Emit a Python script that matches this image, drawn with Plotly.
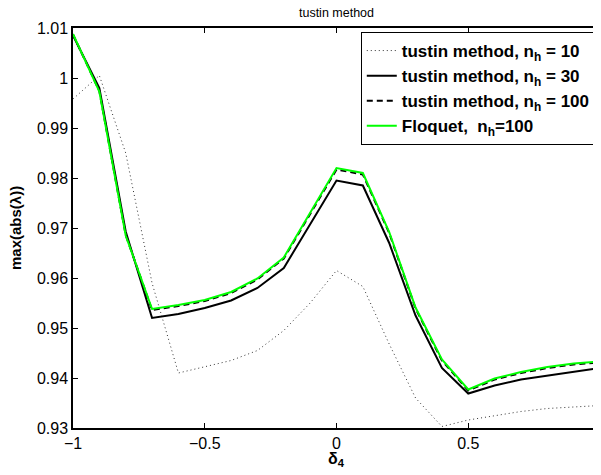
import plotly.graph_objects as go

# ---- data ----
delta4 = [-1.0, -0.9, -0.8, -0.7, -0.6, -0.5, -0.4, -0.3, -0.2, -0.1, 0.0,
          0.1, 0.2, 0.3, 0.4, 0.5, 0.6, 0.7, 0.8, 0.9, 1.0]

tustin_nh10 = [0.9958, 1.0005, 0.9850, 0.9590, 0.9410, 0.9422, 0.9435, 0.9455,
               0.9495, 0.9550, 0.9615, 0.9583, 0.9468, 0.9360, 0.9303, 0.9316,
               0.9325, 0.9333, 0.9339, 0.9342, 0.9345]

tustin_nh30 = [1.0085, 0.9980, 0.9693, 0.9520, 0.9528, 0.9540, 0.9555, 0.9580,
               0.9620, 0.9708, 0.9795, 0.9785, 0.9670, 0.9525, 0.9420, 0.9369,
               0.9385, 0.9397, 0.9405, 0.9413, 0.9420]

tustin_nh100 = [1.0087, 0.9974, 0.9686, 0.9536, 0.9544, 0.9554, 0.9570, 0.9597,
                0.9639, 0.9728, 0.9817, 0.9807, 0.9690, 0.9539, 0.9435, 0.9375,
                0.9397, 0.9410, 0.9420, 0.9427, 0.9431]

floquet_nh100 = [1.0088, 0.9973, 0.9685, 0.9538, 0.9546, 0.9556, 0.9572, 0.9599,
                 0.9641, 0.9730, 0.9820, 0.9810, 0.9692, 0.9541, 0.9437, 0.9377,
                 0.9399, 0.9412, 0.9422, 0.9429, 0.9433]

series_names = ["<b>tustin method, n<sub>h</sub> = 10</b>",
                "<b>tustin method, n<sub>h</sub> = 30</b>",
                "<b>tustin method, n<sub>h</sub> = 100</b>",
                "<b>Floquet,  n<sub>h</sub>=100</b>"]

x_tickvals = [-1, -0.5, 0, 0.5, 1]
x_ticktext = ["\u22121", "\u22120.5", "0", "0.5", "1"]
y_tickvals = [0.93, 0.94, 0.95, 0.96, 0.97, 0.98, 0.99, 1.0, 1.01]
y_ticktext = ["0.93", "0.94", "0.95", "0.96", "0.97", "0.98", "0.99", "1", "1.01"]

FONT = "Liberation Sans, Arial, Helvetica, sans-serif"

# The page body has an 8px default margin, so the figure is sized to fit inside it.
W, H = 593, 467

fig = go.Figure()
fig.add_trace(go.Scatter(x=delta4, y=tustin_nh10, mode="lines", name=series_names[0],
                         line=dict(color="#333333", width=1, dash="1px,3px")))
fig.add_trace(go.Scatter(x=delta4, y=tustin_nh30, mode="lines", name=series_names[1],
                         line=dict(color="black", width=2)))
fig.add_trace(go.Scatter(x=delta4, y=tustin_nh100, mode="lines", name=series_names[2],
                         line=dict(color="black", width=2, dash="6px,4px")))
fig.add_trace(go.Scatter(x=delta4, y=floquet_nh100, mode="lines", name=series_names[3],
                         line=dict(color="#00ff00", width=2)))

axis_common = dict(showline=True, linecolor="black", linewidth=1.5, mirror="ticks",
                   ticks="inside", ticklen=5, tickwidth=1, tickcolor="black",
                   showgrid=False, zeroline=False, automargin=False,
                   ticklabeloverflow="allow",
                   tickfont=dict(family=FONT, size=16, color="black"))

fig.update_layout(
    width=W, height=H,
    margin=dict(l=65, r=1, t=20, b=47, autoexpand=False),
    paper_bgcolor="white", plot_bgcolor="white",
    font=dict(family=FONT, color="black"),
    title=dict(text="tustin method", x=0.5, xref="paper", y=1 - 5 / H,
               yref="container", yanchor="middle", xanchor="center",
               font=dict(family=FONT, size=12.5, color="black")),
    xaxis=dict(range=[-1, 1], tickvals=x_tickvals, ticktext=x_ticktext, **axis_common),
    yaxis=dict(range=[0.93, 1.01], tickvals=y_tickvals, ticktext=y_ticktext, **axis_common),
    legend=dict(x=0.992, xanchor="right", y=0.99, yanchor="top",
                bgcolor="white", bordercolor="black", borderwidth=1,
                font=dict(family=FONT, size=17, color="black"),
                tracegroupgap=0),
    showlegend=True,
    annotations=[
        dict(text="<b>\u03b4<sub>4</sub></b>", xref="paper", yref="paper",
             x=0.5, y=-0.078, xanchor="center", yanchor="middle", showarrow=False,
             font=dict(family=FONT, size=16, color="black")),
        dict(text="<b>max(abs(\u03bb))</b>", xref="paper", yref="paper",
             x=-0.11, y=0.5, xanchor="center", yanchor="middle", showarrow=False,
             textangle=-90, font=dict(family=FONT, size=15, color="black")),
    ],
)

fig.write_html("out.html")
